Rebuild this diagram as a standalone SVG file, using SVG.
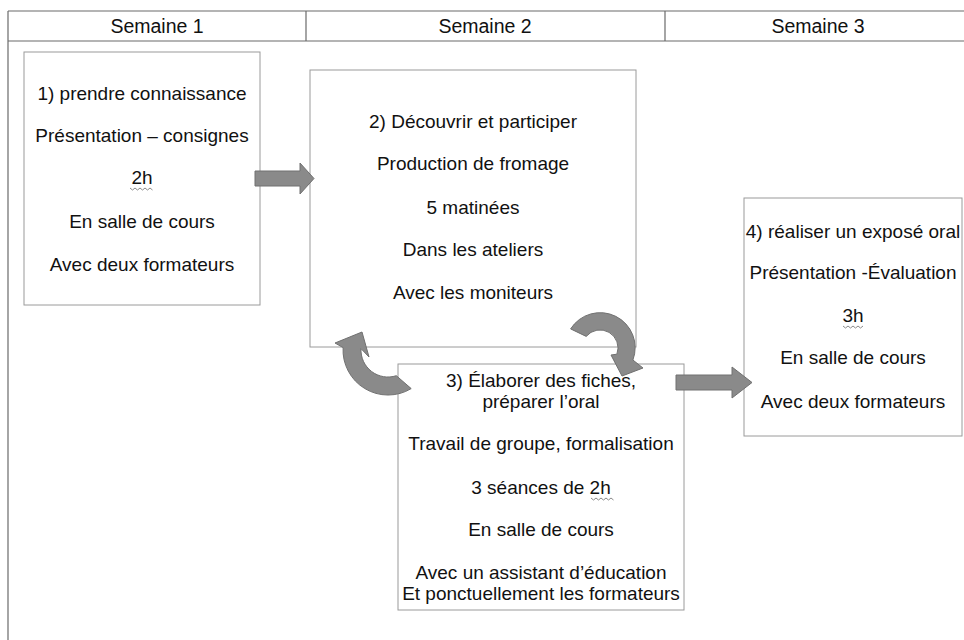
<svg xmlns="http://www.w3.org/2000/svg" width="964" height="640" viewBox="0 0 964 640">
<style>
  text { font-family: "Liberation Sans", Arial, sans-serif; font-size: 19px; fill: #111; text-anchor: middle; }
  .hdr { font-size: 19.5px; }
  .grid { stroke: #6a6a6a; stroke-width: 1.2; fill: none; }
  .box { fill: #fff; stroke: #9a9a9a; stroke-width: 1; }
  .arrow { fill: #8a8a8a; stroke: #707070; stroke-width: 1; }
  .squig { fill: none; stroke: #8a8a8a; stroke-width: 1; }
</style>
<rect width="964" height="640" fill="#fff"/>
<g id="header">
  <line class="grid" x1="8" y1="11" x2="964" y2="11"/>
  <line class="grid" x1="8" y1="41" x2="964" y2="41"/>
  <line class="grid" x1="8" y1="11" x2="8" y2="640"/>
  <line class="grid" x1="306" y1="11" x2="306" y2="41"/>
  <line class="grid" x1="665" y1="11" x2="665" y2="41"/>
  <text class="hdr" x="157" y="33">Semaine 1</text>
  <text class="hdr" x="485" y="33">Semaine 2</text>
  <text class="hdr" x="818" y="33">Semaine 3</text>
</g>
<g id="node1">
  <rect class="box" x="24" y="52" width="236" height="253"/>
  <text x="142" y="100">1) prendre connaissance</text>
  <text x="142" y="142">Présentation – consignes</text>
  <text x="142" y="184">2h</text>
  <path class="squig" d="M130,188 l2.5,2 l2.5,-2 l2.5,2 l2.5,-2 l2.5,2 l2.5,-2 l2.5,2 l2.5,-2 l2.5,2"/>
  <text x="142" y="228">En salle de cours</text>
  <text x="142" y="271">Avec deux formateurs</text>
</g>
<g id="node2">
  <rect class="box" x="310" y="70" width="326" height="277"/>
  <text x="473" y="128">2) Découvrir et participer</text>
  <text x="473" y="170">Production de fromage</text>
  <text x="473" y="214">5 matinées</text>
  <text x="473" y="256">Dans les ateliers</text>
  <text x="473" y="299">Avec les moniteurs</text>
</g>
<g id="node3">
  <rect class="box" x="398" y="364" width="286" height="246"/>
  <text x="541" y="387">3) Élaborer des fiches,</text>
  <text x="541" y="408">préparer l’oral</text>
  <text x="541" y="450">Travail de groupe, formalisation</text>
  <text x="541" y="494">3 séances de 2h</text>
  <path class="squig" d="M591,498 l2.5,2 l2.5,-2 l2.5,2 l2.5,-2 l2.5,2 l2.5,-2 l2.5,2 l2.5,-2 l2.5,2"/>
  <text x="541" y="536">En salle de cours</text>
  <text x="541" y="579">Avec un assistant d’éducation</text>
  <text x="541" y="600">Et ponctuellement les formateurs</text>
</g>
<g id="node4">
  <rect class="box" x="744" y="198" width="218" height="238"/>
  <text x="853" y="238">4) réaliser un exposé oral</text>
  <text x="853" y="279">Présentation -Évaluation</text>
  <text x="853" y="322">3h</text>
  <path class="squig" d="M843,326 l2.5,2 l2.5,-2 l2.5,2 l2.5,-2 l2.5,2 l2.5,-2 l2.5,2 l2.5,-2"/>
  <text x="853" y="364">En salle de cours</text>
  <text x="853" y="408">Avec deux formateurs</text>
</g>
<g id="connectors">
  <path class="arrow" d="M255,171 L300,171 L300,163 L314,178.5 L300,194 L300,186 L255,186 Z"/>
  <path class="arrow" d="M676,375 L732,375 L732,367 L752,382.5 L732,398 L732,390 L676,390 Z"/>
  <path class="arrow" d="M411.2,388.6 A45,45 0 0 1 343.1,347.6 L335,343 L362,332 L369,357 L361,348.6 A27,27 0 0 0 396.3,375.7 Z"/>
  <path class="arrow" d="M570.6,328.9 A35,35 0 0 1 632.9,360 L643,368 L622,376 L611,355 L616.9,354.2 A18,18 0 0 0 586.2,336.4 Z"/>
</g>
</svg>
